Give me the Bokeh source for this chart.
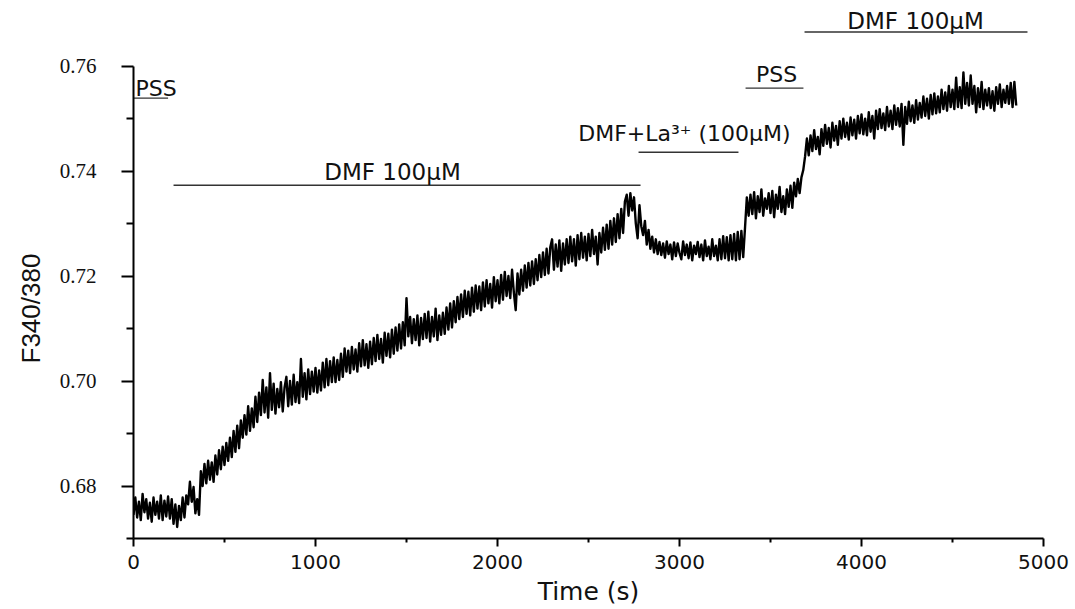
from bokeh.plotting import figure
from bokeh.models import Range1d, FixedTicker, NumeralTickFormatter, ColumnDataSource, Title
from bokeh.core.properties import value
from bokeh.embed import file_html
from bokeh.resources import INLINE

# ---- data -------------------------------------------------------------
time_step = 10  # s between samples
ratio = [
    .6745, .6778, .6740, .6770, .6735, .6785, .6750, .6775, .6738, .6768,   # 0
    .6732, .6778, .6745, .6770, .6738, .6782, .6735, .6772, .6742, .6780,   # 100
    .6738, .6775, .6728, .6765, .6722, .6762, .6735, .6778, .6740, .6782,   # 200
    .6765, .6808, .6770, .6798, .6748, .6775, .6745, .6828, .6800, .6842,   # 300
    .6805, .6848, .6812, .6845, .6808, .6858, .6822, .6868, .6832, .6875,   # 400
    .6840, .6882, .6848, .6892, .6855, .6905, .6865, .6915, .6872, .6925,   # 500
    .6892, .6935, .6898, .6952, .6905, .6948, .6912, .6970, .6922, .6978,   # 600
    .6935, .7002, .6940, .6988, .6930, .7015, .6945, .6995, .6938, .6985,   # 700
    .6950, .6998, .6942, .6988, .7008, .6952, .7000, .6955, .7012, .6960,   # 800
    .6998, .6958, .7042, .6970, .7015, .6965, .7022, .6975, .7018, .6980,   # 900
    .7025, .6978, .7020, .6982, .7035, .6988, .7042, .6992, .7038, .6998,   # 1000
    .7045, .6998, .7040, .7002, .7052, .7008, .7062, .7018, .7058, .7015,   # 1100
    .7065, .7022, .7060, .7018, .7072, .7028, .7078, .7030, .7070, .7025,   # 1200
    .7075, .7032, .7082, .7038, .7088, .7042, .7080, .7035, .7092, .7048,   # 1300
    .7090, .7045, .7098, .7052, .7102, .7058, .7108, .7062, .7112, .7068,   # 1400
    .7158, .7085, .7122, .7072, .7118, .7078, .7125, .7068, .7120, .7080,   # 1500
    .7128, .7082, .7132, .7075, .7122, .7085, .7138, .7078, .7125, .7088,   # 1600
    .7130, .7090, .7140, .7098, .7148, .7102, .7152, .7112, .7160, .7118,   # 1700
    .7165, .7122, .7172, .7128, .7170, .7125, .7178, .7132, .7182, .7138,   # 1800
    .7180, .7135, .7188, .7142, .7192, .7148, .7185, .7140, .7198, .7152,   # 1900
    .7192, .7148, .7202, .7155, .7208, .7162, .7200, .7158, .7212, .7168,   # 2000
    .7135, .7205, .7165, .7212, .7172, .7220, .7178, .7225, .7182, .7228,   # 2100
    .7185, .7232, .7192, .7240, .7198, .7245, .7202, .7252, .7205, .7255,   # 2200
    .7270, .7212, .7260, .7218, .7268, .7210, .7262, .7222, .7270, .7225,   # 2300
    .7275, .7228, .7270, .7220, .7278, .7232, .7282, .7235, .7275, .7230,   # 2400
    .7280, .7238, .7288, .7242, .7275, .7222, .7282, .7245, .7292, .7250,   # 2500
    .7298, .7252, .7305, .7260, .7310, .7265, .7318, .7272, .7328, .7282,   # 2600
    .7342, .7355, .7315, .7358, .7325, .7350, .7300, .7272, .7335, .7295,   # 2700
    .7278, .7305, .7260, .7288, .7252, .7275, .7245, .7270, .7242, .7265,   # 2800
    .7240, .7262, .7235, .7266, .7242, .7260, .7232, .7264, .7238, .7262,   # 2900
    .7244, .7232, .7266, .7240, .7260, .7234, .7264, .7230, .7258, .7242,   # 3000
    .7265, .7236, .7260, .7230, .7268, .7238, .7256, .7232, .7270, .7238,   # 3100
    .7258, .7230, .7270, .7232, .7276, .7234, .7274, .7230, .7278, .7232,   # 3200
    .7280, .7230, .7284, .7232, .7286, .7236, .7292, .7350, .7315, .7355,   # 3300
    .7318, .7360, .7310, .7352, .7322, .7365, .7315, .7348, .7328, .7358,   # 3400
    .7320, .7362, .7312, .7355, .7328, .7370, .7322, .7352, .7318, .7365,   # 3500
    .7332, .7372, .7330, .7378, .7352, .7385, .7358, .7388, .7402, .7428,   # 3600
    .7462, .7430, .7468, .7438, .7478, .7442, .7465, .7432, .7480, .7448,   # 3700
    .7488, .7452, .7482, .7445, .7492, .7458, .7486, .7450, .7495, .7462,   # 3800
    .7500, .7465, .7492, .7460, .7502, .7468, .7498, .7462, .7505, .7472,   # 3900
    .7508, .7470, .7500, .7468, .7512, .7475, .7505, .7462, .7515, .7480,   # 4000
    .7518, .7482, .7510, .7478, .7522, .7485, .7515, .7480, .7525, .7488,   # 4100
    .7520, .7485, .7528, .7450, .7522, .7490, .7532, .7495, .7525, .7492,   # 4200
    .7535, .7498, .7530, .7502, .7542, .7505, .7538, .7500, .7545, .7508,   # 4300
    .7548, .7510, .7542, .7512, .7555, .7518, .7550, .7515, .7562, .7522,   # 4400
    .7555, .7518, .7578, .7522, .7560, .7520, .7588, .7528, .7568, .7525,   # 4500
    .7582, .7528, .7562, .7512, .7558, .7522, .7570, .7518, .7555, .7525,   # 4600
    .7558, .7520, .7552, .7515, .7560, .7528, .7565, .7522, .7555, .7530,   # 4700
    .7562, .7528, .7568, .7522, .7570, .7525,                               # 4800
]
time_s = [i * time_step for i in range(len(ratio))]

# treatment bars (start, end in s; level in F340/380 units) and their labels
bar_start = [0, 220, 2775, 3363, 3687]
bar_end = [190, 2786, 3324, 3681, 4912]
bar_level = [0.7539, 0.7373, 0.7436, 0.7558, 0.7665]
bar_label = ["PSS", "DMF 100µM", "DMF+La³⁺ (100µM)", "PSS", "DMF 100µM"]
label_x = [11, 1423, 3027, 3533, 4297]
label_y = [0.7558, 0.7398, 0.7472, 0.7584, 0.7685]

x_major = [0, 1000, 2000, 3000, 4000, 5000]
x_minor = [500, 1500, 2500, 3500, 4500]
y_major = [0.68, 0.70, 0.72, 0.74, 0.76]
y_minor = [0.67, 0.69, 0.71, 0.73, 0.75]

# ---- figure -----------------------------------------------------------
p = figure(width=1075, height=609,
           x_range=Range1d(0, 5000), y_range=Range1d(0.670, 0.7725),
           output_backend="svg", toolbar_location=None,
           min_border_left=133, min_border_right=32,
           min_border_top=0, min_border_bottom=71)
p.outline_line_color = None
p.grid.visible = False
p.background_fill_color = "white"

p.line(time_s, ratio, line_color="black", line_width=2.4, line_join="round")

bars = ColumnDataSource(dict(
    x0=bar_start, x1=bar_end, y=bar_level, lx=label_x, ly=label_y,
    label=bar_label,
    align=["left", "center", "center", "center", "center"],
    size=["22px", "23px", "22px", "22px", "23px"],
))
p.segment(x0="x0", y0="y", x1="x1", y1="y", source=bars,
          line_color="#333333", line_width=1.4)
p.text(x="lx", y="ly", text="label", source=bars, text_align="align",
       text_baseline="alphabetic", text_font_size="size",
       text_font=value("DejaVu Sans"), text_color="#111111")

# ---- axes ------------------------------------------------------------
xa = p.xaxis[0]
xa.ticker = FixedTicker(ticks=x_major, minor_ticks=x_minor)
xa.formatter = NumeralTickFormatter(format="0")
xa.bounds = (0, 5000)
xa.major_label_text_font = "DejaVu Sans"
xa.major_label_text_font_size = "20px"
xa.major_label_text_color = "#111111"
xa.major_label_standoff = 8
xa.major_tick_in = 0
xa.major_tick_out = 8
xa.minor_tick_in = 0
xa.minor_tick_out = 4
xa.axis_line_width = 2
xa.major_tick_line_width = 2
xa.minor_tick_line_width = 2
xa.axis_line_color = "black"

xtitle = Title(text="Time (s)", align="center", standoff=6,
               text_font="DejaVu Sans", text_font_size="25px",
               text_font_style="normal", text_color="#111111")
p.add_layout(xtitle, "below")

ya = p.yaxis[0]
ya.ticker = FixedTicker(ticks=y_major, minor_ticks=y_minor)
ya.formatter = NumeralTickFormatter(format="0.00")
ya.bounds = (0.67, 0.76)
ya.major_label_text_font = "Liberation Serif"
ya.major_label_text_font_size = "21px"
ya.major_label_text_color = "#111111"
ya.major_label_standoff = 25
ya.major_tick_in = 0
ya.major_tick_out = 12
ya.minor_tick_in = 0
ya.minor_tick_out = 7
ya.axis_line_width = 2
ya.major_tick_line_width = 2
ya.minor_tick_line_width = 2
ya.axis_line_color = "black"

ytitle = Title(text="F340/380", align="left", offset=175, standoff=22,
               text_font="Liberation Sans", text_font_size="26px",
               text_font_style="normal", text_color="#111111")
p.add_layout(ytitle, "left")

open("out.html", "w").write(file_html(p, INLINE))
